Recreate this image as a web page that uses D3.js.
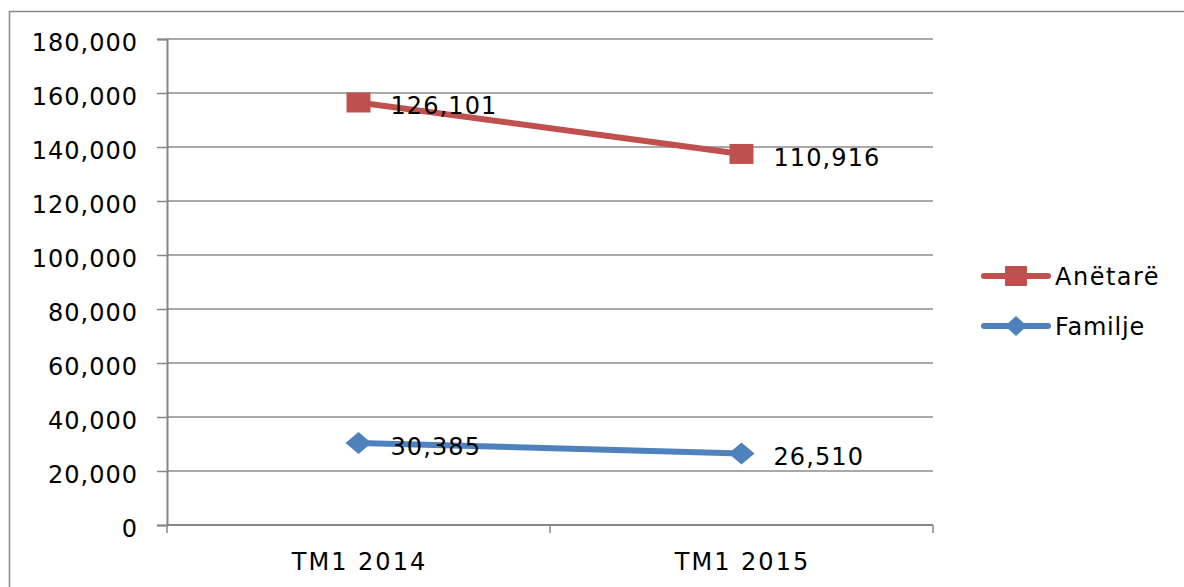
<!DOCTYPE html>
<html lang="en">
<head>
    <meta charset="UTF-8">
    <title>Anëtarë / Familje</title>
    <style>
        body { margin: 0; background: #fff; }
        svg { display: block; }
        text { font-family: "DejaVu Sans", sans-serif; fill: #000; }
    </style>
    <script src="https://d3js.org/d3.v7.min.js"></script>
</head>
<body>
    <div id="chart"></div>
    <script>
        const width = 1184;
        const height = 587;

        // data
        const categories = ["TM1 2014", "TM1 2015"];
        const familje = [30385, 26510];
        const anetare = [126101, 110916];
        const yTicks = [0, 20000, 40000, 60000, 80000, 100000, 120000, 140000, 160000, 180000];

        // stacked line: Anëtarë sits on top of Familje
        const series = [
            { name: "Familje", color: "#4F81BD", marker: "diamond",
              values: familje.map((v, i) => ({ cat: categories[i], label: v, y: v })) },
            { name: "Anëtarë", color: "#C0504D", marker: "square",
              values: anetare.map((v, i) => ({ cat: categories[i], label: v, y: v + familje[i] })) }
        ];

        const plot = { left: 167, right: 933, top: 39, bottom: 525 };

        const svg = d3.select("#chart").append("svg")
            .attr("width", width)
            .attr("height", height);

        // outer chart border
        svg.append("rect")
            .attr("x", 9.5).attr("y", 11.5)
            .attr("width", width).attr("height", height)
            .attr("fill", "none")
            .attr("stroke", "#888").attr("stroke-width", 1.5);

        const x = d3.scaleBand().domain(categories).range([plot.left, plot.right]);
        const y = d3.scaleLinear().domain([0, 180000]).range([plot.bottom, plot.top]);

        const fmt = d3.format(",");

        // gridlines
        svg.append("g")
            .selectAll("line")
            .data(yTicks.filter(d => d > 0))
            .enter().append("line")
            .attr("x1", plot.left).attr("x2", plot.right)
            .attr("y1", d => y(d)).attr("y2", d => y(d))
            .attr("stroke", "#8c8c8c").attr("stroke-width", 1.5);

        // y axis
        const yAxis = svg.append("g")
            .attr("transform", `translate(${plot.left},0)`)
            .call(d3.axisLeft(y).tickValues(yTicks).tickFormat(fmt).tickSize(10).tickPadding(19));
        yAxis.select(".domain").attr("stroke", "#868686").attr("stroke-width", 2);
        yAxis.selectAll(".tick line").attr("stroke", "#868686").attr("stroke-width", 1.5);
        yAxis.selectAll(".tick text")
            .attr("font-family", "DejaVu Sans")
            .attr("font-size", 24)
            .attr("letter-spacing", 1)
            .attr("dy", 11.5)
            .attr("fill", "#000");

        // x axis (ticks between categories)
        const xAxis = svg.append("g")
            .attr("transform", `translate(0,${plot.bottom})`);
        xAxis.append("line")
            .attr("x1", plot.left).attr("x2", plot.right)
            .attr("stroke", "#868686").attr("stroke-width", 2);
        const boundaries = categories.map(c => x(c)).concat([plot.right]);
        xAxis.selectAll("line.tk")
            .data(boundaries)
            .enter().append("line")
            .attr("class", "tk")
            .attr("x1", d => d).attr("x2", d => d)
            .attr("y1", 0).attr("y2", 8)
            .attr("stroke", "#868686").attr("stroke-width", 1.5);
        xAxis.selectAll("text")
            .data(categories)
            .enter().append("text")
            .attr("x", d => x(d) + x.bandwidth() / 2 + 1)
            .attr("y", 45)
            .attr("text-anchor", "middle")
            .attr("font-size", 24)
            .attr("letter-spacing", 2)
            .text(d => d);

        const cx = d => x(d.cat) + x.bandwidth() / 2;
        const line = d3.line().x(cx).y(d => y(d.y));

        const diamond = "M0,-11L13,0L0,11L-13,0Z";

        series.forEach(s => {
            const g = svg.append("g");
            g.append("path")
                .datum(s.values)
                .attr("d", line)
                .attr("fill", "none")
                .attr("stroke", s.color)
                .attr("stroke-width", 6)
                .attr("stroke-linecap", "round");

            if (s.marker === "square") {
                g.selectAll("rect")
                    .data(s.values)
                    .enter().append("rect")
                    .attr("x", d => cx(d) - 12).attr("y", d => y(d.y) - 10)
                    .attr("width", 24).attr("height", 20)
                    .attr("fill", s.color);
            } else {
                g.selectAll("path.mk")
                    .data(s.values)
                    .enter().append("path")
                    .attr("class", "mk")
                    .attr("d", diamond)
                    .attr("transform", d => `translate(${cx(d)},${y(d.y)})`)
                    .attr("fill", s.color);
            }

            g.selectAll("text")
                .data(s.values)
                .enter().append("text")
                .attr("x", d => cx(d) + 32)
                .attr("y", d => y(d.y) + 12)
                .attr("font-size", 24)
                .attr("letter-spacing", 1.1)
                .text(d => fmt(d.label));
        });

        // legend
        const legendItems = [series[1], series[0]];
        const legend = svg.append("g");
        legendItems.forEach((s, i) => {
            const ly = 276 + i * 50;
            legend.append("line")
                .attr("x1", 984).attr("x2", 1048)
                .attr("y1", ly).attr("y2", ly)
                .attr("stroke", s.color).attr("stroke-width", 6)
                .attr("stroke-linecap", "round");
            if (s.marker === "square") {
                legend.append("rect")
                    .attr("x", 1005).attr("y", ly - 10)
                    .attr("width", 22).attr("height", 20)
                    .attr("fill", s.color);
            } else {
                legend.append("path")
                    .attr("d", "M0,-10L11,0L0,10L-11,0Z")
                    .attr("transform", `translate(1016,${ly})`)
                    .attr("fill", s.color);
            }
            legend.append("text")
                .attr("x", 1055).attr("y", ly + 9)
                .attr("font-size", 24)
                .attr("letter-spacing", i === 0 ? 1.5 : 0.8)
                .text(s.name);
        });
    </script>
</body>
</html>
